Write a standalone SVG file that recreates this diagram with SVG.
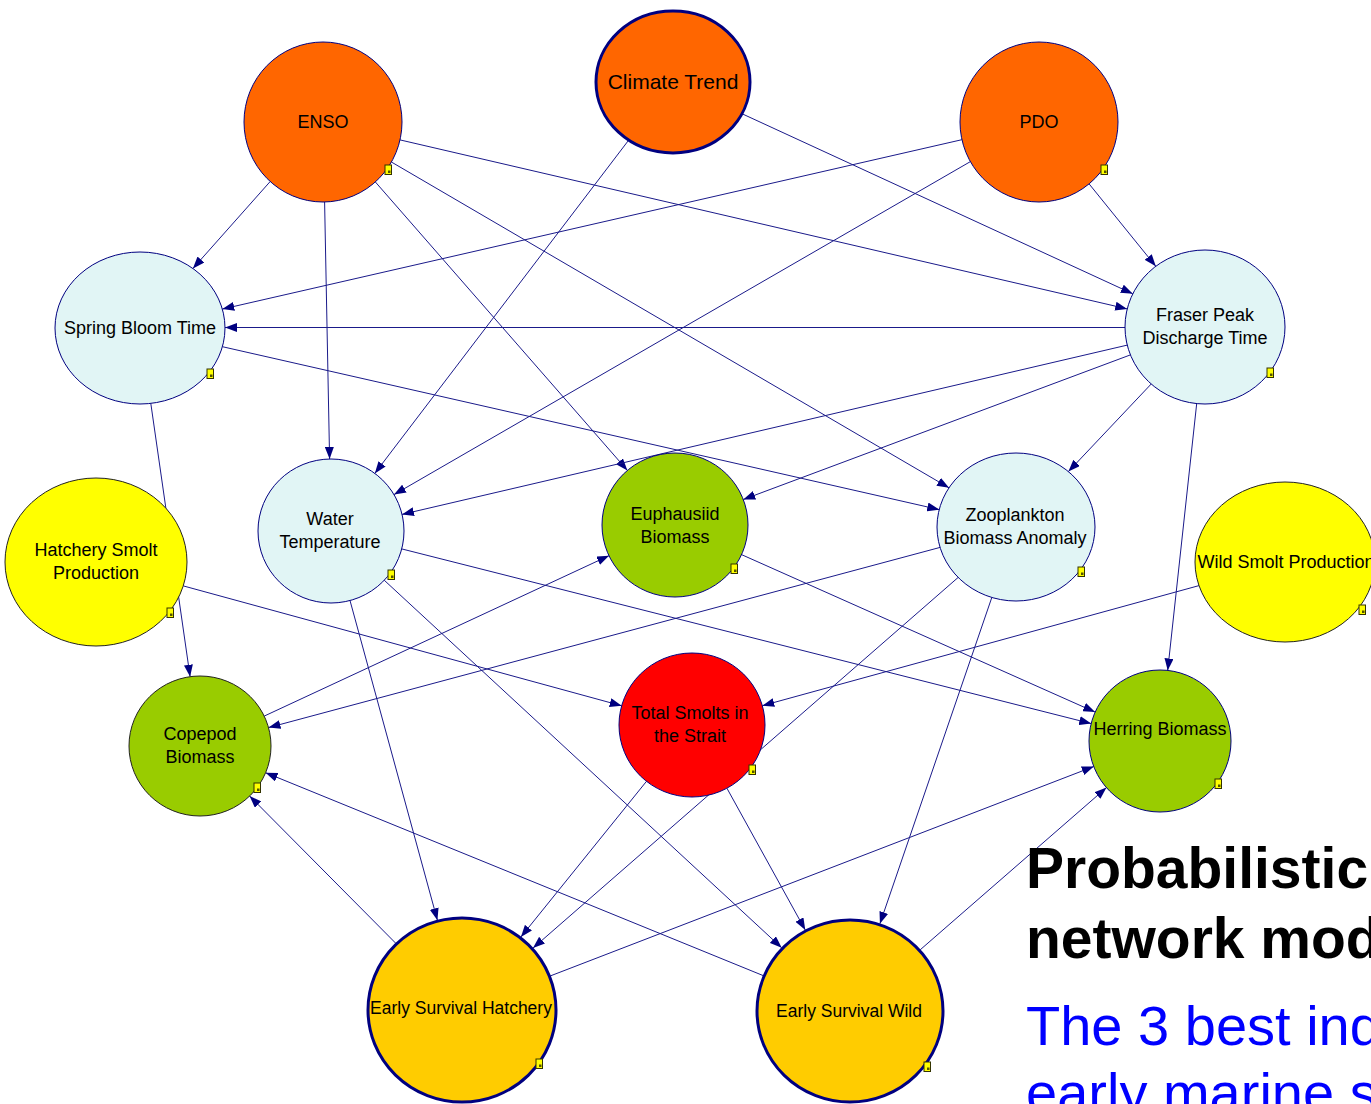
<svg xmlns="http://www.w3.org/2000/svg" xmlns:xlink="http://www.w3.org/1999/xlink" width="1371" height="1104" viewBox="0 0 1371 1104">
<style>
.bg{fill:#ffffff}
.n{stroke:#000080;stroke-width:1}
.thick{stroke:#000080;stroke-width:3}
.blk{stroke:#222222;stroke-width:1}
.orange{fill:#FF6600}
.cyan{fill:#E1F5F5}
.green{fill:#99CC00}
.yellow{fill:#FFFF00}
.red{fill:#FF0000}
.gold{fill:#FFCC00}
.lbl{font-family:"Liberation Sans",Arial,sans-serif;font-size:18px;fill:#000;text-anchor:middle}
.sm{font-size:17.5px}
.big{font-size:21px}
.e line{stroke:#1a1a8a;stroke-width:1;marker-end:url(#arr)}
.title{font-family:"Liberation Sans",Arial,sans-serif;font-size:57px;font-weight:bold;fill:#000}
.sub{font-family:"Liberation Sans",Arial,sans-serif;font-size:56px;fill:#0000FF}
</style>
<defs>
<marker id="arr" markerUnits="userSpaceOnUse" markerWidth="12" markerHeight="9" refX="12" refY="4.5" orient="auto">
<path d="M0,0 L12,4.5 L0,9 z" fill="#000080"/>
</marker>
<g id="note">
<rect x="0" y="0" width="6.5" height="9.5" fill="#FFFF00" stroke="#333300" stroke-width="1"/>
<rect x="3" y="5.5" width="2.5" height="2.5" fill="#555500"/>
</g>
</defs>
<rect class="bg" x="0" y="0" width="1371" height="1104"/>

<g id="connectors" class="e">
<line x1="270.2" y1="181.5" x2="192.9" y2="268.5"/>
<line x1="324.6" y1="202" x2="329.6" y2="459"/>
<line x1="375.3" y1="181.9" x2="627.4" y2="470.4"/>
<line x1="391.4" y1="162" x2="949" y2="487.8"/>
<line x1="400" y1="139.9" x2="1127.2" y2="308.9"/>
<line x1="628.1" y1="140.9" x2="374.8" y2="473.4"/>
<line x1="742.8" y1="114.1" x2="1132.8" y2="293.8"/>
<line x1="961.9" y1="139.7" x2="222.3" y2="309.1"/>
<line x1="970.4" y1="161.6" x2="394" y2="494.6"/>
<line x1="1089.1" y1="183.9" x2="1155.8" y2="266.3"/>
<line x1="1125" y1="327.5" x2="225" y2="327.5"/>
<line x1="1127.3" y1="345.1" x2="402" y2="514.4"/>
<line x1="1130.4" y1="354.9" x2="743.3" y2="499.5"/>
<line x1="1151.2" y1="384" x2="1068.4" y2="471.6"/>
<line x1="1196.7" y1="403.6" x2="1167.7" y2="670.4"/>
<line x1="222.4" y1="346.7" x2="939.2" y2="509.6"/>
<line x1="150.8" y1="403.4" x2="190.1" y2="676.7"/>
<line x1="401.7" y1="548.9" x2="1091.2" y2="723.6"/>
<line x1="350" y1="600.5" x2="437.4" y2="920.2"/>
<line x1="384.2" y1="580.2" x2="781.7" y2="947.8"/>
<line x1="741.5" y1="554.6" x2="1095.1" y2="712.1"/>
<line x1="940.1" y1="547.4" x2="268.5" y2="727.6"/>
<line x1="958.2" y1="577.4" x2="533" y2="948.1"/>
<line x1="991.8" y1="597.5" x2="879.9" y2="923.8"/>
<line x1="183.3" y1="585.9" x2="621.7" y2="705.8"/>
<line x1="1199" y1="585.6" x2="762.3" y2="705.7"/>
<line x1="264.2" y1="716.1" x2="609" y2="555.7"/>
<line x1="646.5" y1="781.3" x2="520.9" y2="937"/>
<line x1="726.9" y1="788.2" x2="805.3" y2="930.1"/>
<line x1="395.8" y1="943.3" x2="249.6" y2="796"/>
<line x1="550.4" y1="975.9" x2="1093.8" y2="766.5"/>
<line x1="763.2" y1="975.6" x2="265.6" y2="772.7"/>
<line x1="920.2" y1="949.8" x2="1106.5" y2="787.6"/>
</g>

<g id="enso"><ellipse class="orange n" cx="323" cy="122" rx="79" ry="80"/><text class="lbl" x="323" y="128">ENSO</text><use xlink:href="#note" x="385" y="165"/></g>
<g id="climate-trend"><ellipse class="orange thick" cx="673" cy="82" rx="77" ry="71"/><text class="lbl big" x="673" y="89">Climate Trend</text></g>
<g id="pdo"><ellipse class="orange n" cx="1039" cy="122" rx="79" ry="80"/><text class="lbl" x="1039" y="128">PDO</text><use xlink:href="#note" x="1101" y="165"/></g>
<g id="spring-bloom-time"><ellipse class="cyan n" cx="140" cy="328" rx="85" ry="76"/><text class="lbl" x="140" y="334">Spring Bloom Time</text><use xlink:href="#note" x="207" y="369"/></g>
<g id="fraser-peak"><ellipse class="cyan n" cx="1205" cy="327" rx="80" ry="77"/><text class="lbl" x="1205" y="321">Fraser Peak</text><text class="lbl" x="1205" y="344">Discharge Time</text><use xlink:href="#note" x="1267" y="368"/></g>
<g id="water-temperature"><ellipse class="cyan n" cx="331" cy="531" rx="73" ry="72"/><text class="lbl" x="330" y="525">Water</text><text class="lbl" x="330" y="548">Temperature</text><use xlink:href="#note" x="388" y="570"/></g>
<g id="euphausiid-biomass"><ellipse class="green n" cx="675" cy="525" rx="73" ry="72"/><text class="lbl" x="675" y="520">Euphausiid</text><text class="lbl" x="675" y="543">Biomass</text><use xlink:href="#note" x="731" y="564"/></g>
<g id="zooplankton"><ellipse class="cyan n" cx="1016" cy="527" rx="79" ry="74"/><text class="lbl" x="1015" y="521">Zooplankton</text><text class="lbl" x="1015" y="544">Biomass Anomaly</text><use xlink:href="#note" x="1078" y="567"/></g>
<g id="hatchery-smolt"><ellipse class="yellow blk" cx="96" cy="562" rx="91" ry="84"/><text class="lbl" x="96" y="556">Hatchery Smolt</text><text class="lbl" x="96" y="579">Production</text><use xlink:href="#note" x="167" y="608"/></g>
<g id="wild-smolt"><ellipse class="yellow blk" cx="1285" cy="562" rx="90" ry="80"/><text class="lbl" x="1286" y="568">Wild Smolt Production</text><use xlink:href="#note" x="1359" y="605"/></g>
<g id="copepod-biomass"><ellipse class="green blk" cx="200" cy="746" rx="71" ry="70"/><text class="lbl" x="200" y="740">Copepod</text><text class="lbl" x="200" y="763">Biomass</text><use xlink:href="#note" x="254" y="783"/></g>
<g id="total-smolts"><ellipse class="red n" cx="692" cy="725" rx="73" ry="72"/><text class="lbl" x="690" y="719">Total Smolts in</text><text class="lbl" x="690" y="742">the Strait</text><use xlink:href="#note" x="749" y="765"/></g>
<g id="herring-biomass"><ellipse class="green n" cx="1160" cy="741" rx="71" ry="71"/><text class="lbl" x="1160" y="735">Herring Biomass</text><use xlink:href="#note" x="1215" y="779"/></g>
<g id="early-survival-hatchery"><ellipse class="gold thick" cx="462" cy="1010" rx="94" ry="92"/><text class="lbl sm" x="461" y="1014">Early Survival Hatchery</text><use xlink:href="#note" x="536" y="1059"/></g>
<g id="early-survival-wild"><ellipse class="gold thick" cx="850" cy="1011" rx="93" ry="91"/><text class="lbl sm" x="849" y="1017">Early Survival Wild</text><use xlink:href="#note" x="924" y="1062"/></g>

<g id="caption">
<text class="title" x="1026" y="888">Probabilistic</text>
<text class="title" x="1026" y="958">network model</text>
<text class="sub" x="1026" y="1045">The 3 best indicators</text>
<text class="sub" x="1026" y="1112">early marine survival</text>
</g>
</svg>
